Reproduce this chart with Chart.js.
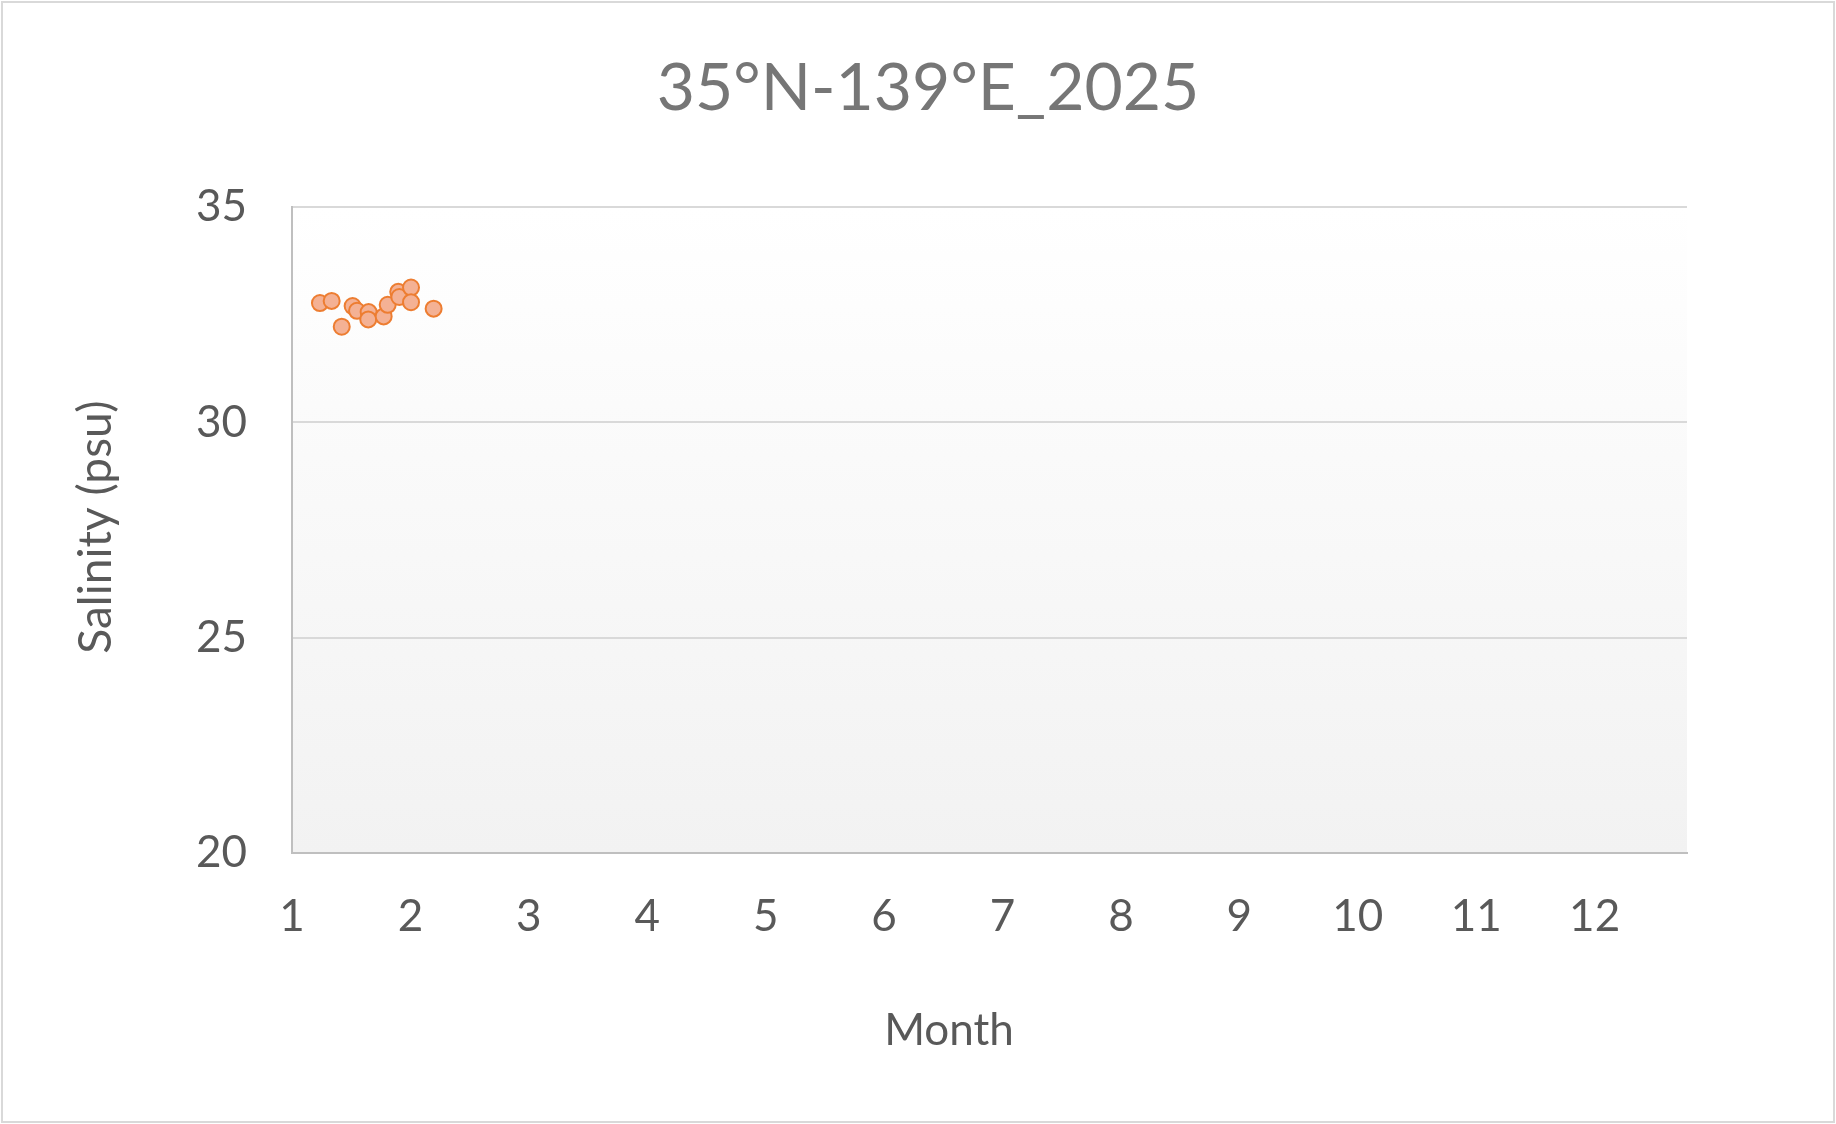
<!DOCTYPE html>
<html>
<head>
<meta charset="utf-8">
<script src="https://cdn.jsdelivr.net/npm/chart.js@4.4.1/dist/chart.umd.min.js"></script>
<style>
  body { margin: 0; background: #ffffff; }
  #wrap { position: relative; width: 1836px; height: 1124px; }
  #frame { position: absolute; left: 1px; top: 1px; width: 1830px; height: 1118px; border: 2px solid #d9d9d9; pointer-events: none; }
</style>
</head>
<body>
<div id="wrap">
  <canvas id="salinity_graph" width="1836" height="1124"></canvas>
  <div id="frame"></div>
</div>
<script>
// データ
const chartTitle = "35°N-139°E_2025";
const xTitle     = "Month";
const yTitle     = "Salinity (psu)";

const months   = [1.236, 1.335, 1.42, 1.512, 1.549, 1.647, 1.644, 1.774, 1.808, 1.897, 1.906, 2.005, 2.005, 2.196];
const salinity = [32.77, 32.82, 32.22, 32.70, 32.59, 32.56, 32.39, 32.46, 32.73, 33.03, 32.91, 33.13, 32.79, 32.64];

const xTicks = [1, 2, 3, 4, 5, 6, 7, 8, 9, 10, 11, 12];
const yTicks = [20, 25, 30, 35];

window.addEventListener("load", function () {
    draw_scatter();
});

function draw_scatter() {
    let points = [];
    for (let i = 0; i < months.length; i++) {
        points.push({ x: months[i], y: salinity[i] });
    }

    // プロットエリアの背景(上が白、下が薄いグレー)
    const plotBackground = {
        id: "plotBackground",
        beforeDraw(chart) {
            const a = chart.chartArea;
            const ctx = chart.ctx;
            const g = ctx.createLinearGradient(0, a.top, 0, a.bottom);
            g.addColorStop(0, "#ffffff");
            g.addColorStop(1, "#f2f2f2");
            ctx.save();
            ctx.fillStyle = g;
            ctx.fillRect(a.left, a.top, a.right - a.left, a.bottom - a.top);
            ctx.restore();
        }
    };

    // タイトルと軸タイトル
    const texts = {
        id: "texts",
        afterDraw(chart) {
            const ctx = chart.ctx;
            ctx.save();
            ctx.textAlign = "center";
            ctx.textBaseline = "alphabetic";

            ctx.fillStyle = "#767676";
            ctx.font = "66px Lato";
            ctx.fillText(chartTitle, 928, 110);

            ctx.fillStyle = "#595959";
            ctx.font = "44px Lato";
            ctx.fillText(xTitle, 949, 1045);

            ctx.font = "46px Lato";
            ctx.translate(111, 527);
            ctx.rotate(-Math.PI / 2);
            ctx.fillText(yTitle, 0, 0);
            ctx.restore();
        }
    };

    const ctx = document.getElementById("salinity_graph").getContext("2d");
    const myChart = new Chart(ctx, {
        type: "scatter",
        data: {
            datasets: [{
                data: points,
                backgroundColor: "#f4b194",
                borderColor: "#ed7d31",
                borderWidth: 2,
                pointRadius: 8,
                pointHoverRadius: 8
            }]
        },
        plugins: [plotBackground, texts],
        options: {
            responsive: false,
            animation: false,
            layout: { padding: { top: 207, right: 149, bottom: 0, left: 0 } },
            plugins: {
                legend: { display: false },
                title: { display: false },
                tooltip: { enabled: false }
            },
            scales: {
                x: {
                    type: "linear",
                    min: 1,
                    max: 12.78,
                    afterBuildTicks: function (scale) {
                        scale.ticks = xTicks.map(v => ({ value: v }));
                    },
                    afterFit: function (scale) { scale.height = 271; },
                    grid: { display: false, drawTicks: false },
                    border: { display: true, color: "#bfbfbf", width: 2 },
                    ticks: {
                        color: "#595959",
                        font: { family: "Lato", size: 44 },
                        padding: 37,
                        maxRotation: 0,
                        autoSkip: false
                    }
                },
                y: {
                    type: "linear",
                    min: 20,
                    max: 35,
                    afterBuildTicks: function (scale) {
                        scale.ticks = yTicks.map(v => ({ value: v }));
                    },
                    afterFit: function (scale) { scale.width = 292; },
                    grid: { color: "#d9d9d9", lineWidth: 2, drawTicks: false },
                    border: { display: true, color: "#bfbfbf", width: 2 },
                    ticks: {
                        color: "#595959",
                        font: { family: "Lato", size: 44 },
                        padding: 45
                    }
                }
            }
        }
    });
}
</script>
</body>
</html>
